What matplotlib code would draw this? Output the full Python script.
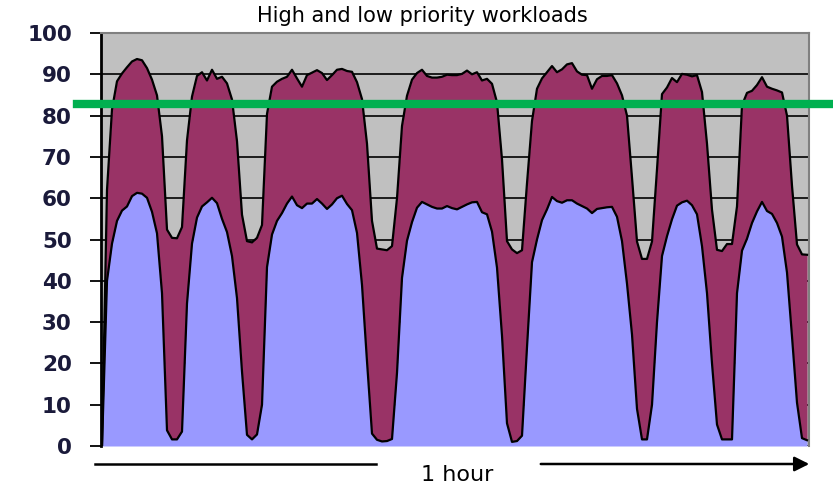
import numpy as np
import matplotlib
matplotlib.use('Agg')
import matplotlib.pyplot as plt
from matplotlib.lines import Line2D

# total load (top of the purple band) and low priority load (blue band), one sample per step
total = [0, 62, 81.5, 88.3, 90.2, 91.7, 93.1, 93.7, 93.4, 91.5,
         88.7, 84.9, 75, 52.4, 50.4, 50.3, 53, 74, 84.6, 89.6,
         90.5, 88.5, 91.1, 88.9, 89.4, 87.8, 83.9, 73.8, 56, 49.6,
         49.3, 50.4, 53.5, 80.4, 87, 88.2, 88.9, 89.4, 91.1, 89,
         87, 89.8, 90.4, 91, 90.3, 88.6, 89.8, 91.1, 91.3, 90.8,
         90.6, 88.1, 84, 73.2, 54.5, 47.8, 47.6, 47.4, 48.4, 60,
         77.5, 84.8, 88.7, 90.3, 91.1, 89.6, 89.2, 89.2, 89.4, 89.9,
         89.8, 89.8, 90.1, 90.9, 90, 90.5, 88.5, 88.9, 87.7, 83.2,
         69.4, 49.6, 47.6, 46.7, 47.4, 63.6, 78.7, 86.5, 89, 90.5,
         92, 90.5, 91.2, 92.4, 92.7, 90.7, 89.9, 89.8, 86.5, 88.8,
         89.6, 89.6, 89.8, 87.8, 84.9, 80, 65, 49.5, 45.3, 45.3,
         49.5, 67, 85.2, 86.8, 89.1, 88.1, 90.1, 89.9, 89.5, 89.8,
         85.7, 73.2, 57.2, 47.5, 47.2, 48.9, 48.9, 58, 82.5, 85.5,
         86, 87.4, 89.3, 87, 86.5, 86.1, 85.6, 80, 63, 48.8,
         46.4, 46.3]

low = [0, 40, 49, 54.5, 57, 58, 60.5, 61.3, 61.1, 60.1,
       56.7, 51.5, 37, 3.8, 1.6, 1.6, 3.5, 34.5, 49, 55.3,
       58, 59, 60.1, 58.8, 55, 51.8, 46, 35.8, 18, 2.7,
       1.6, 2.8, 10, 43.3, 51.2, 54.5, 56.4, 58.7, 60.4, 58.3,
       57.6, 58.7, 58.7, 59.8, 58.7, 57.4, 58.5, 60, 60.6, 58.6,
       57.1, 51.6, 39, 20.5, 3, 1.5, 1.1, 1.2, 1.7, 17.7,
       40.7, 49.7, 54.2, 57.7, 59.1, 58.5, 57.9, 57.5, 57.5, 58.1,
       57.6, 57.3, 57.9, 58.5, 59, 59.1, 56.6, 56.1, 51.9, 43.2,
       26.7, 5.5, 1, 1.2, 2.5, 23.9, 44.5, 50, 54.7, 57.3,
       60.3, 59.3, 58.9, 59.5, 59.5, 58.7, 58.1, 57.5, 56.4, 57.4,
       57.6, 57.8, 57.9, 55.5, 49.6, 39.3, 27, 9, 1.6, 1.6,
       10, 30, 46, 50.8, 54.9, 58.2, 59, 59.4, 58.3, 56.1,
       48.4, 37, 20, 5.2, 1.6, 1.6, 1.6, 37, 47.3, 50.2,
       54, 56.8, 59.1, 56.9, 56.2, 54, 50.7, 42, 26.5, 10.5,
       1.9, 1.4]

threshold = 82.8
yticks = list(range(0, 101, 10))

x = np.arange(len(total))

fig = plt.figure(figsize=(8.33, 4.87), dpi=100)
ax = fig.add_axes([101/833, 1-446/487, 708/833, 413/487])
ax.set_facecolor('#c0c0c0')

ax.fill_between(x, 0, low, color='#9999ff', lw=0, zorder=2)
ax.fill_between(x, low, total, color='#993366', lw=0, zorder=2)
ax.plot(x, low, color='black', lw=1.6, zorder=3)
ax.plot(x, total, color='black', lw=1.6, zorder=3)

ax.set_xlim(-0.2, 141.4)
ax.set_ylim(0, 100)
ax.set_yticks(yticks)
ax.set_xticks([])
ax.yaxis.grid(True, color='black', lw=1.2)
ax.set_axisbelow(True)
ax.tick_params(axis='y', direction='out', length=8, width=1.3, pad=13,
               labelsize=15.5, labelcolor='#1a1a3a')
for lab in ax.get_yticklabels():
    lab.set_fontweight('bold')

ax.spines['left'].set_color('black')
ax.spines['left'].set_linewidth(2)
for s in ['top', 'right']:
    ax.spines[s].set_color('#808080')
    ax.spines[s].set_linewidth(1.5)
ax.spines['bottom'].set_visible(False)

# green threshold line, sticking out of the plot area on both sides
ax.axhline(threshold, xmin=-0.034, xmax=1.03, color='#00b050', lw=6, clip_on=False, zorder=5)

fig.text(422/833, 1-16/487, 'High and low priority workloads', ha='center', va='center',
         fontsize=15)

# time arrow under the chart
ya = 1-464/487
fig.add_artist(Line2D([95/833, 376/833], [ya, ya], color='black', lw=1.8))
ax.annotate('', xy=(812/833, ya), xytext=(538/833, ya), xycoords='figure fraction',
            arrowprops=dict(arrowstyle='-|>', color='black', lw=1.8, mutation_scale=22))
fig.text(457/833, 1-475/487, '1 hour', ha='center', va='center', fontsize=16)

plt.savefig('out.png', dpi=100)
